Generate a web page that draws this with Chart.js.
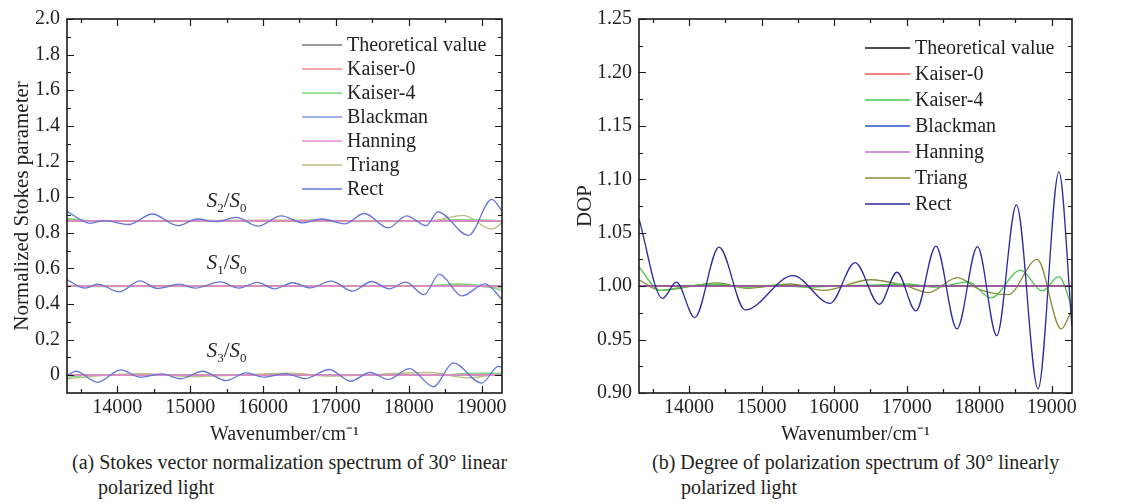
<!DOCTYPE html>
<html lang="en">
<head>
<meta charset="UTF-8" />
<title>Stokes vector and DOP spectra</title>
<script src="https://cdn.jsdelivr.net/npm/chart.js"></script>
<style>
    body {
        margin: 0;
        width: 1121px;
        height: 503px;
        background: #fff;
        position: relative;
        overflow: hidden;
        font-family: 'Liberation Serif', 'Times New Roman', serif;
        color: #231f20;
    }
    .panel { position: absolute; top: 0; }
    #stokesBox { left: 0; }
    #dopBox { left: 560px; }
    .caption {
        position: absolute;
        top: 450px;
        font-size: 20px;
        line-height: 25px;
        white-space: nowrap;
    }
    #capA { left: 72px; padding-left: 26px; text-indent: -26px; }
    #capB { left: 652px; padding-left: 29px; text-indent: -29px; }
</style>
</head>
<body>
<div class="panel" id="stokesBox"><canvas id="stokesChart" width="545" height="450"></canvas></div>
<div class="panel" id="dopBox"><canvas id="dopChart" width="561" height="450"></canvas></div>
<div class="caption" id="capA">(a) Stokes vector normalization spectrum of 30° linear<br>polarized light</div>
<div class="caption" id="capB">(b) Degree of polarization spectrum of 30° linearly<br>polarized light</div>

<script>
// ---- axes ----
const xMin = 13310, xMax = 19280;
const xTickValues = [14000, 15000, 16000, 17000, 18000, 19000];
const xMinorTicks = [13500, 14500, 15500, 16500, 17500, 18500];

const stokesTickValues = [0, 0.2, 0.4, 0.6, 0.8, 1.0, 1.2, 1.4, 1.6, 1.8, 2.0];
const stokesTickLabels = ['0', '0.2', '0.4', '0.6', '0.8', '1.0', '1.2', '1.4', '1.6', '1.8', '2.0'];
const stokesMinorTicks = [0.1, 0.3, 0.5, 0.7, 0.9, 1.1, 1.3, 1.5, 1.7, 1.9];

const dopTickValues = [0.90, 0.95, 1.00, 1.05, 1.10, 1.15, 1.20, 1.25];
const dopTickLabels = ['0.90', '0.95', '1.00', '1.05', '1.10', '1.15', '1.20', '1.25'];
const dopMinorTicks = [0.925, 0.975, 1.025, 1.075, 1.125, 1.175, 1.225];

const methods = ['Theoretical value', 'Kaiser-0', 'Kaiser-4', 'Blackman', 'Hanning', 'Triang', 'Rect'];
const stokesColors = ['#777777', '#f28888', '#78d478', '#8896dc', '#e088dc', '#bcbc80', '#6474d6'];
const dopColors = ['#111111', '#f05a5a', '#4cc84c', '#3050d0', '#c070c8', '#8c8c38', '#2a2a9c'];

// ---- theoretical values (30 deg linear light) ----
const s2Theory = 0.866, s1Theory = 0.5, s3Theory = 0, dopTheory = 1.0;

// ---- Stokes: Rect window ----
const rectS2X = [13310, 13630, 13820, 14160, 14480, 14830, 15100, 15350, 15630, 15930, 16250, 16550, 16800, 17120, 17390, 17720, 17970, 18240, 18400, 18820, 19140, 19280];
const rectS2Y = [0.919, 0.853, 0.868, 0.846, 0.905, 0.840, 0.877, 0.862, 0.886, 0.837, 0.895, 0.855, 0.877, 0.850, 0.908, 0.827, 0.895, 0.840, 0.917, 0.785, 0.987, 0.923];
const rectS1X = [13310, 13560, 13730, 14030, 14310, 14550, 14850, 15070, 15410, 15670, 15920, 16160, 16410, 16650, 16935, 17230, 17490, 17730, 17960, 18210, 18420, 18730, 19046, 19280];
const rectS1Y = [0.535, 0.489, 0.511, 0.468, 0.530, 0.487, 0.511, 0.489, 0.524, 0.489, 0.521, 0.485, 0.519, 0.490, 0.528, 0.472, 0.526, 0.485, 0.522, 0.452, 0.567, 0.445, 0.513, 0.426];
const rectS3X = [13310, 13430, 13730, 14050, 14310, 14610, 14870, 15170, 15490, 15770, 16010, 16310, 16580, 16910, 17200, 17470, 17720, 18010, 18340, 18610, 19000, 19230, 19280];
const rectS3Y = [-0.002, 0.022, -0.040, 0.030, -0.011, 0.007, -0.020, 0.022, -0.030, 0.013, -0.011, 0.009, -0.019, 0.032, -0.034, 0.015, -0.024, 0.037, -0.065, 0.069, -0.045, 0.050, 0.045];

// ---- Stokes: Kaiser-4 window ----
const k4S2X = [13310, 13700, 18300, 18650, 19000, 19280];
const k4S2Y = [0.880, 0.866, 0.866, 0.874, 0.872, 0.868];
const k4S1X = [13310, 13600, 18200, 18650, 19050, 19280];
const k4S1Y = [0.500, 0.497, 0.500, 0.513, 0.500, 0.476];
const k4S3X = [13310, 13700, 18400, 18900, 19280];
const k4S3Y = [-0.012, 0.000, 0.000, 0.012, 0.010];

// ---- Stokes: Triang window ----
const triS2X = [13310, 13700, 16800, 17300, 18300, 18750, 19140, 19280];
const triS2Y = [0.876, 0.866, 0.872, 0.862, 0.866, 0.897, 0.820, 0.855];
const triS1X = [13310, 18400, 18700, 19100, 19280];
const triS1Y = [0.502, 0.500, 0.510, 0.493, 0.490];
const triS3X = [13310, 13700, 14300, 15000, 16400, 16900, 18300, 18800, 19280];
const triS3Y = [-0.020, -0.005, 0.008, -0.008, 0.012, -0.005, 0.015, -0.015, 0.012];

// ---- DOP ----
const dopRectX = [13310, 13633, 13826, 14078, 14413, 14775, 15431, 15945, 16289, 16624, 16867, 17128, 17404, 17693, 17977, 18243, 18514, 18812, 19100, 19280];
const dopRectY = [1.063, 0.9885, 1.0037, 0.9706, 1.0365, 0.9777, 1.0099, 0.9839, 1.022, 0.983, 1.013, 0.9768, 1.0375, 0.960, 1.037, 0.9536, 1.076, 0.904, 1.107, 0.962];
const dopK4X = [13310, 13600, 13900, 14350, 14800, 15200, 15600, 16000, 16500, 17000, 17400, 17850, 18160, 18573, 18870, 19100, 19280];
const dopK4Y = [1.018, 0.996, 0.999, 1.002, 0.999, 1.001, 0.999, 1.000, 1.001, 1.002, 0.999, 1.004, 0.989, 1.015, 0.9955, 1.009, 0.980];
const dopTriX = [13310, 13600, 14400, 14800, 15400, 15850, 16500, 17000, 17300, 17700, 18000, 18400, 18800, 19130, 19280];
const dopTriY = [1.006, 0.996, 1.003, 0.998, 1.002, 0.996, 1.006, 1.000, 0.994, 1.008, 0.997, 0.992, 1.025, 0.960, 0.978];

// drawing order per method (lower number is drawn on top)
const stokesOrder = [5, 2, 3, 6, 1, 4, 0];
const dopOrder = [2, 4, 3, 5, 1, 6, 0];

const serif = "'Liberation Serif', 'Times New Roman', serif";
Chart.defaults.font.family = serif;
Chart.defaults.color = '#231f20';

function line(methodIdx, colors, order, xs, ys) {
    return {
        label: methods[methodIdx],
        data: xs.map((x, i) => ({ x: x, y: ys[i] })),
        borderColor: colors[methodIdx],
        borderWidth: 1.3,
        pointRadius: 0,
        fill: false,
        cubicInterpolationMode: 'monotone',
        order: order[methodIdx]
    };
}

function flat(methodIdx, colors, order, value) {
    return line(methodIdx, colors, order, [xMin, xMax], [value, value]);
}

// frame with inward ticks on all four sides
const frameTicks = {
    id: 'frameTicks',
    afterDatasetsDraw(chart, args, opts) {
        const { ctx, chartArea: a, scales: { x, y } } = chart;
        ctx.save();
        ctx.strokeStyle = '#1a1a1a';
        ctx.lineWidth = 1.2;
        ctx.beginPath();
        const tickX = (vals, len) => vals.forEach(v => {
            const px = Math.round(x.getPixelForValue(v)) + 0.5;
            ctx.moveTo(px, a.bottom); ctx.lineTo(px, a.bottom - len);
            ctx.moveTo(px, a.top); ctx.lineTo(px, a.top + len);
        });
        const tickY = (vals, len) => vals.forEach(v => {
            const py = Math.round(y.getPixelForValue(v)) + 0.5;
            ctx.moveTo(a.left, py); ctx.lineTo(a.left + len, py);
            ctx.moveTo(a.right, py); ctx.lineTo(a.right - len, py);
        });
        tickX(xTickValues, 7);
        tickX(xMinorTicks, 4);
        tickY(opts.major, 7);
        tickY(opts.minor, 4);
        ctx.stroke();
        ctx.lineWidth = 1.6;
        ctx.strokeRect(a.left, a.top, a.right - a.left, a.bottom - a.top);
        ctx.restore();
    }
};

// legend drawn inside the plot, upper right
const innerLegend = {
    id: 'innerLegend',
    afterDraw(chart, args, opts) {
        const { ctx, chartArea: a } = chart;
        ctx.save();
        ctx.font = '20px ' + serif;
        ctx.textBaseline = 'middle';
        ctx.fillStyle = '#231f20';
        methods.forEach((name, i) => {
            const yy = a.top + opts.top + i * opts.step;
            const x0 = a.right - opts.fromRight;
            ctx.strokeStyle = opts.colors[i];
            ctx.lineWidth = 1.4;
            ctx.beginPath();
            ctx.moveTo(x0, yy);
            ctx.lineTo(x0 + opts.lineLen, yy);
            ctx.stroke();
            ctx.fillText(name, x0 + opts.lineLen + 5, yy + 1);
        });
        ctx.restore();
    }
};

// S_n/S_0 labels
const stokesNames = [
    { sub: '2', x: 15500, y: 0.985 },
    { sub: '1', x: 15500, y: 0.635 },
    { sub: '3', x: 15500, y: 0.14 }
];
const ratioLabels = {
    id: 'ratioLabels',
    afterDraw(chart) {
        const { ctx, scales: { x, y } } = chart;
        ctx.save();
        ctx.fillStyle = '#231f20';
        ctx.textBaseline = 'alphabetic';
        const big = 'italic 21px ' + serif, small = '13px ' + serif, slash = '21px ' + serif;
        stokesNames.forEach(item => {
            const parts = [
                [big, 'S', 0], [small, item.sub, 5], [slash, '/', 0], [big, 'S', 0], [small, '0', 5]
            ];
            let total = 0;
            parts.forEach(p => { ctx.font = p[0]; total += ctx.measureText(p[1]).width; });
            let cx = x.getPixelForValue(item.x) - total / 2;
            const base = y.getPixelForValue(item.y) + 7;
            parts.forEach(p => {
                ctx.font = p[0];
                ctx.fillText(p[1], cx, base + p[2]);
                cx += ctx.measureText(p[1]).width;
            });
        });
        ctx.restore();
    }
};

function xScale() {
    return {
        type: 'linear',
        min: xMin,
        max: xMax,
        grid: { display: false, drawTicks: false },
        border: { display: false },
        afterBuildTicks: s => { s.ticks = xTickValues.map(v => ({ value: v })); },
        afterFit: s => { s.height = 57; },
        ticks: { font: { size: 20 }, padding: 3, maxRotation: 0, autoSkip: false, callback: v => String(v) },
        title: { display: true, text: 'Wavenumber/cm\u207B\u00B9', font: { size: 20 }, padding: { top: 0, bottom: 3 } }
    };
}

function yScale(min, max, values, labels, title, width, titlePad) {
    return {
        type: 'linear',
        min: min,
        max: max,
        grid: { display: false, drawTicks: false },
        border: { display: false },
        afterBuildTicks: s => { s.ticks = values.map(v => ({ value: v })); },
        afterFit: s => { s.width = width; },
        ticks: { font: { size: 20 }, padding: 7, autoSkip: false, callback: v => labels[values.indexOf(v)] },
        title: { display: true, text: title, font: { size: 21 }, padding: { top: titlePad, bottom: 0 } }
    };
}

// ---- left chart ----
const stokesSets = [];
[[s2Theory, rectS2X, rectS2Y, k4S2X, k4S2Y, triS2X, triS2Y],
 [s1Theory, rectS1X, rectS1Y, k4S1X, k4S1Y, triS1X, triS1Y],
 [s3Theory, rectS3X, rectS3Y, k4S3X, k4S3Y, triS3X, triS3Y]].forEach(c => {
    stokesSets.push(flat(0, stokesColors, stokesOrder, c[0]));
    stokesSets.push(flat(1, stokesColors, stokesOrder, c[0]));
    stokesSets.push(line(2, stokesColors, stokesOrder, c[3], c[4]));
    stokesSets.push(flat(3, stokesColors, stokesOrder, c[0]));
    stokesSets.push(flat(4, stokesColors, stokesOrder, c[0]));
    stokesSets.push(line(5, stokesColors, stokesOrder, c[5], c[6]));
    stokesSets.push(line(6, stokesColors, stokesOrder, c[1], c[2]));
});

new Chart(document.getElementById('stokesChart'), {
    type: 'line',
    data: { datasets: stokesSets },
    options: {
        responsive: false,
        animation: false,
        layout: { padding: { top: 17, right: 43, bottom: 0, left: 0 } },
        plugins: {
            legend: { display: false },
            tooltip: { enabled: false },
            frameTicks: { major: stokesTickValues, minor: stokesMinorTicks },
            innerLegend: { colors: stokesColors, top: 26, step: 24, fromRight: 200, lineLen: 40 }
        },
        scales: {
            x: xScale(),
            y: yScale(-0.1, 2.0, stokesTickValues, stokesTickLabels, 'Normalized Stokes parameter', 67, 10)
        }
    },
    plugins: [frameTicks, innerLegend, ratioLabels]
});

// ---- right chart ----
const dopSets = [
    flat(0, dopColors, dopOrder, dopTheory),
    flat(1, dopColors, dopOrder, dopTheory),
    line(2, dopColors, dopOrder, dopK4X, dopK4Y),
    flat(3, dopColors, dopOrder, dopTheory),
    flat(4, dopColors, dopOrder, dopTheory),
    line(5, dopColors, dopOrder, dopTriX, dopTriY),
    line(6, dopColors, dopOrder, dopRectX, dopRectY)
];

new Chart(document.getElementById('dopChart'), {
    type: 'line',
    data: { datasets: dopSets },
    options: {
        responsive: false,
        animation: false,
        layout: { padding: { top: 16, right: 49, bottom: 0, left: 0 } },
        plugins: {
            legend: { display: false },
            tooltip: { enabled: false },
            frameTicks: { major: dopTickValues, minor: dopMinorTicks },
            innerLegend: { colors: dopColors, top: 29, step: 26, fromRight: 207, lineLen: 45 }
        },
        scales: {
            x: xScale(),
            y: yScale(0.9, 1.25, dopTickValues, dopTickLabels, 'DOP', 79, 13)
        }
    },
    plugins: [frameTicks, innerLegend]
});
</script>
</body>
</html>
